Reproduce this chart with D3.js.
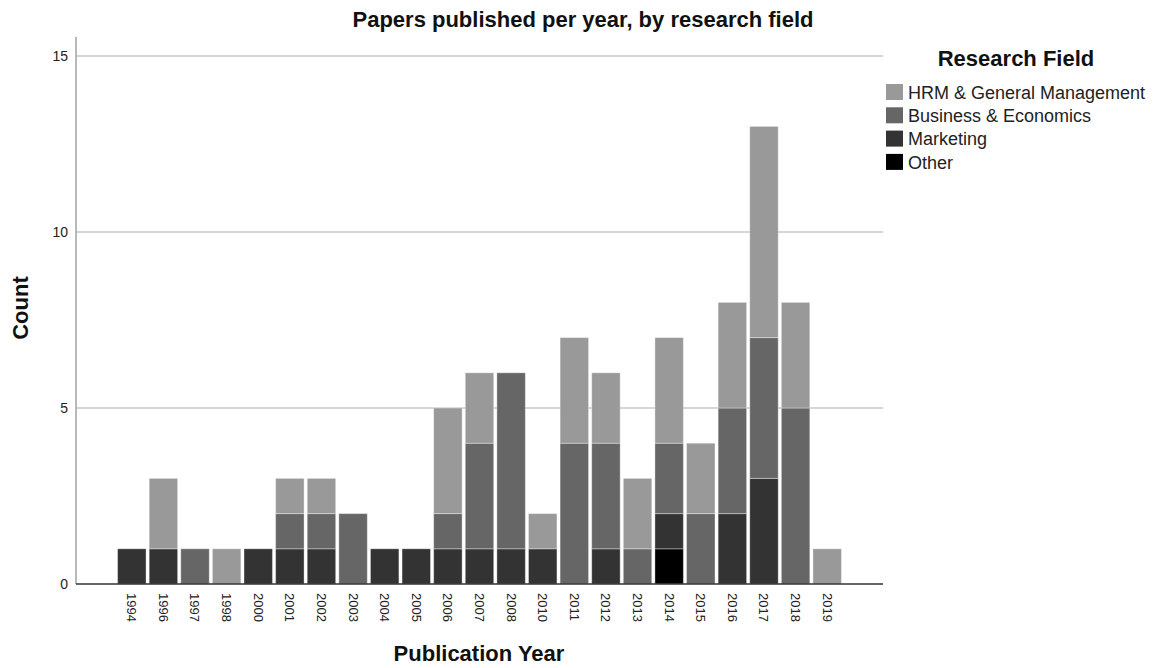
<!DOCTYPE html>
<html><head><meta charset="utf-8">
<script src="https://cdn.jsdelivr.net/npm/d3@7"></script>
<style>body{margin:0;background:#fff;} text{font-family:"Liberation Sans",Arial,sans-serif;}</style>
</head><body>
<svg id="chart" width="1163" height="668"></svg>
<script>
const years = ["1994","1996","1997","1998","2000","2001","2002","2003","2004","2005","2006","2007","2008","2010","2011","2012","2013","2014","2015","2016","2017","2018","2019"];
const other     = [0,0,0,0,0,0,0,0,0,0,0,0,0,0,0,0,0,1,0,0,0,0,0];
const marketing = [1,1,0,0,1,1,1,0,1,1,1,1,1,1,0,1,0,1,0,2,3,0,0];
const business  = [0,0,1,0,0,1,1,2,0,0,1,3,5,0,4,3,1,2,2,3,4,5,0];
const hrm       = [0,2,0,1,0,1,1,0,0,0,3,2,0,1,3,2,2,3,2,3,6,3,1];
const seriesNames = ["Other","Marketing","Business & Economics","HRM & General Management"];
const seriesColors = ["#000000","#333333","#666666","#999999"];
const yTicks = [0,5,10,15];
const legendOrder = ["HRM & General Management","Business & Economics","Marketing","Other"];

const svg = d3.select("#chart");
const x0 = 76, x1 = 883, yTop = 37, yBot = 584;
const x = d3.scaleBand().domain(years).range([116, 843]).paddingInner(0.1).paddingOuter(0.05);
const y = d3.scaleLinear().domain([0, 15]).range([yBot, 56]);

const rows = years.map((yr, i) => ({year: yr, "Other": other[i], "Marketing": marketing[i], "Business & Economics": business[i], "HRM & General Management": hrm[i]}));
const stack = d3.stack().keys(seriesNames)(rows);

// gridlines
svg.append("g").selectAll("line").data(yTicks.filter(d => d > 0)).join("line")
  .attr("x1", x0).attr("x2", x1).attr("y1", d => y(d)).attr("y2", d => y(d))
  .attr("stroke", "#c8c8c8").attr("stroke-width", 1.3);

// bars
const color = d3.scaleOrdinal().domain(seriesNames).range(seriesColors);
svg.append("g").selectAll("g").data(stack).join("g")
  .attr("fill", d => color(d.key))
  .selectAll("rect").data(d => d.filter(s => s[1] - s[0] > 0)).join("rect")
  .attr("x", d => x(d.data.year)).attr("width", x.bandwidth())
  .attr("y", d => y(d[1])).attr("height", d => y(d[0]) - y(d[1]))
  .attr("stroke", "rgba(255,255,255,0.35)").attr("stroke-width", 1);

// y axis
const yAxis = d3.axisLeft(y).tickValues(yTicks).tickSize(0).tickPadding(8);
const gy = svg.append("g").attr("transform", `translate(${x0},0)`).call(yAxis);
gy.select(".domain").remove();
gy.selectAll("text").attr("font-size", 14).attr("fill", "#222").attr("font-family", "Liberation Sans, Arial, sans-serif");
svg.append("line").attr("x1", x0).attr("x2", x0).attr("y1", yTop).attr("y2", yBot).attr("stroke", "#a0a0a0").attr("stroke-width", 1.5);

// x axis
const xAxis = d3.axisBottom(x).tickSize(0).tickPadding(0);
const gx = svg.append("g").attr("transform", `translate(0,${yBot})`).call(xAxis);
gx.select(".domain").remove();
gx.selectAll("text").attr("font-size", 13).attr("fill", "#222").attr("font-family", "Liberation Sans, Arial, sans-serif")
  .attr("text-anchor", "start").attr("dy", "0.35em").attr("y", 0)
  .attr("transform", "translate(0,9) rotate(90)");
svg.append("line").attr("x1", x0).attr("x2", x1).attr("y1", yBot).attr("y2", yBot).attr("stroke", "#333").attr("stroke-width", 1.5);

// titles
svg.append("text").attr("x", 583).attr("y", 27).attr("text-anchor", "middle").attr("font-size", 22).attr("font-weight", "bold").attr("fill", "#111")
  .text("Papers published per year, by research field");
svg.append("text").attr("transform", "translate(28,308) rotate(-90)").attr("text-anchor", "middle").attr("font-size", 22).attr("font-weight", "bold").attr("fill", "#111").text("Count");
svg.append("text").attr("x", 479).attr("y", 661).attr("text-anchor", "middle").attr("font-size", 22).attr("font-weight", "bold").attr("fill", "#111").text("Publication Year");

// legend
const lg = svg.append("g");
lg.append("text").attr("x", 1016).attr("y", 66).attr("text-anchor", "middle").attr("font-size", 22).attr("font-weight", "bold").attr("fill", "#111").text("Research Field");
const items = lg.selectAll("g.item").data(legendOrder).join("g").attr("class", "item")
  .attr("transform", (d, i) => `translate(886,${84 + i * 23.3})`);
items.append("rect").attr("width", 17).attr("height", 16).attr("fill", d => color(d));
items.append("text").attr("x", 22).attr("y", 8.5).attr("dy", "0.35em").attr("font-size", 18).attr("fill", "#222").text(d => d);
</script>
</body></html>
